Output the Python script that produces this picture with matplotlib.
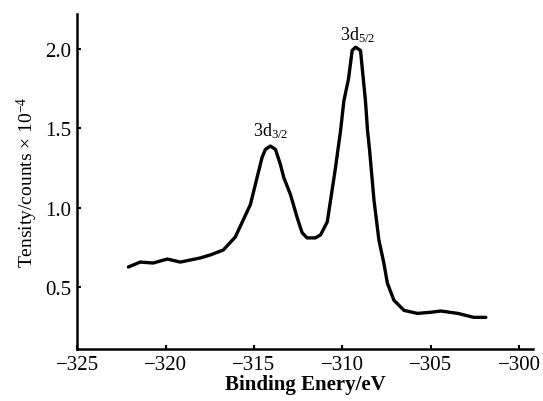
import matplotlib
matplotlib.use('Agg')
import matplotlib.pyplot as plt

# binding energy (eV) and intensity (counts x 10^-4)
energy = [-322.1, -321.43, -320.7, -319.9, -319.16, -318.03, -317.46, -316.73,
          -316.05, -315.6, -315.2, -314.82, -314.54, -314.35, -314.07, -313.78,
          -313.5, -313.31, -312.93, -312.55, -312.27, -311.99, -311.52, -311.23,
          -310.85, -310.4, -310.1, -309.91, -309.65, -309.44, -309.25, -308.97,
          -308.69, -308.57, -308.46, -308.21, -307.93, -307.65, -307.45, -307.08,
          -306.51, -305.75, -305.0, -304.43, -303.47, -302.56, -301.88]
intensity = [0.627, 0.658, 0.652, 0.677, 0.658, 0.684, 0.703, 0.734,
             0.816, 0.924, 1.019, 1.19, 1.316, 1.367, 1.388, 1.367,
             1.272, 1.19, 1.082, 0.937, 0.842, 0.81, 0.81, 0.829,
             0.911, 1.24, 1.483, 1.673, 1.81, 1.99, 2.01, 1.99,
             1.673, 1.483, 1.367, 1.051, 0.797, 0.652, 0.525, 0.418,
             0.354, 0.335, 0.342, 0.35, 0.335, 0.31, 0.31]

peak_labels = [r'3d$_{3/2}$', r'3d$_{5/2}$']
peak_pos = [(-314.07, 1.49), (-309.1, 2.095)]

x_ticks = [-325, -320, -315, -310, -305, -300]
y_ticks = [0.5, 1.0, 1.5, 2.0]

plt.rcParams['font.family'] = ['Liberation Serif', 'DejaVu Serif']
plt.rcParams['mathtext.fontset'] = 'custom'
plt.rcParams['mathtext.rm'] = 'Liberation Serif'
plt.rcParams['mathtext.it'] = 'Liberation Serif'

fig = plt.figure(figsize=(5.43, 4.02), dpi=100)
ax = fig.add_axes([0.142, 0.129, 0.840, 0.834])

ax.plot(energy, intensity, color='black', lw=2.4,
        solid_joinstyle='round', solid_capstyle='round')

for lab, (px, py) in zip(peak_labels, peak_pos):
    ax.text(px, py, lab, ha='center', va='center', fontsize=13)

ax.set_xlim(-325, -299.2)
ax.set_ylim(0.11, 2.22)
ax.set_xticks(x_ticks)
ax.set_yticks(y_ticks)
ax.set_xticklabels(['\u2212%d' % abs(v) for v in x_ticks])
ax.set_yticklabels(['%.1f' % v for v in y_ticks])

for s in ['top', 'right']:
    ax.spines[s].set_visible(False)
for s in ['left', 'bottom']:
    ax.spines[s].set_linewidth(1.8)

ax.tick_params(direction='in', length=3, width=1.5, labelsize=15, pad=4)

ax.set_xlabel('Binding Enery/eV', fontsize=15, fontweight='bold', labelpad=0)
ax.set_ylabel('Tensity/counts \u00d7 10$^{-4}$', fontsize=14, labelpad=4)

fig.savefig('out.png', dpi=100)
